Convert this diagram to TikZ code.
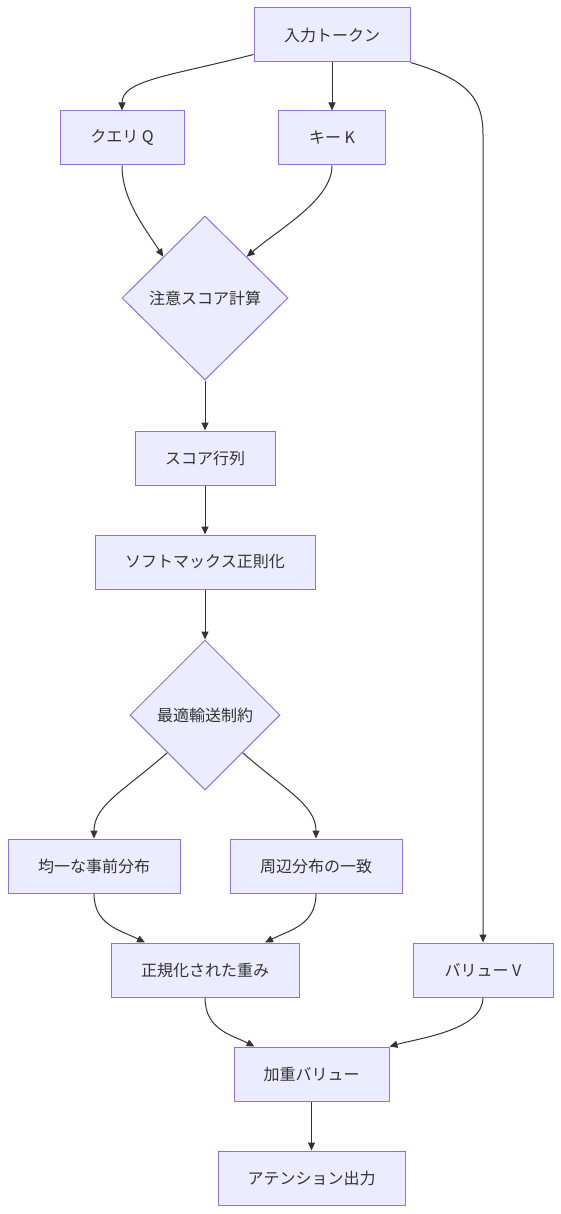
\documentclass[tikz,border=0pt]{standalone}
\usepackage{fontspec}
\setmainfont{Noto Sans CJK JP}
\usetikzlibrary{shapes.geometric,arrows.meta,calc}
\definecolor{mmfill}{HTML}{ECECFF}
\definecolor{mmstroke}{HTML}{9370DB}
\definecolor{mmtext}{HTML}{333333}
\definecolor{mmline}{HTML}{333333}
\begin{document}
\begin{tikzpicture}[x=1pt,y=-1pt,
  box/.style={rectangle,draw=mmstroke,fill=mmfill,line width=1pt,minimum height=54pt,inner sep=0pt,text=mmtext,font=\fontsize{16}{19}\selectfont},
  dia/.style={diamond,draw=mmstroke,fill=mmfill,line width=1pt,inner sep=0pt,text=mmtext,font=\fontsize{16}{19}\selectfont},
  conn/.style={draw=mmline,line width=1pt,-{Triangle[length=8pt,width=7pt]}}]
\useasboundingbox (0,0) rectangle (561,1214);
\node[box,minimum width=156pt] (in) at (332,35) {入力トークン};
\node[box,minimum width=124pt] (q) at (122,138) {クエリ Q};
\node[box,minimum width=107pt] (k) at (332,138) {キー K};
\node[dia,minimum width=166pt,minimum height=164pt] (d1) at (205,298) {注意スコア計算};
\node[box,minimum width=140pt] (score) at (205,458) {スコア行列};
\node[box,minimum width=220pt] (soft) at (205,562) {ソフトマックス正則化};
\node[dia,minimum width=150pt,minimum height=150pt] (d2) at (205,715) {最適輸送制約};
\node[box,minimum width=172pt] (uni) at (94,866) {均一な事前分布};
\node[box,minimum width=172pt] (marg) at (316,866) {周辺分布の一致};
\node[box,minimum width=188pt] (norm) at (205,970) {正規化された重み};
\node[box,minimum width=140pt] (v) at (483,970) {バリュー V};
\node[box,minimum width=155pt] (w) at (311.5,1074) {加重バリュー};
\node[box,minimum width=187pt] (out) at (311.5,1178) {アテンション出力};

\draw[conn] ($(in.south west)+(0,-8)$) .. controls (170,76) and (122,80) .. (q.north);
\draw[conn] (in) -- (k);
\draw[conn] (in.south east) .. controls (470,80) and (483,100) .. (483,135) -- (v.north);
\draw[conn] (q.south) .. controls (122,200) and (145,228) .. (d1.north west);
\draw[conn] (k.south) .. controls (332,200) and (280,228) .. (d1.north east);
\draw[conn] (d1) -- (score);
\draw[conn] (score) -- (soft);
\draw[conn] (soft) -- (d2);
\draw[conn] (d2.south west) .. controls (125,790) and (94,805) .. (uni.north);
\draw[conn] (d2.south east) .. controls (285,790) and (316,805) .. (marg.north);
\draw[conn] (uni.south) .. controls (94,925) and (120,930) .. ($(norm.north)+(-60,0)$);
\draw[conn] (marg.south) .. controls (316,925) and (290,930) .. ($(norm.north)+(60,0)$);
\draw[conn] (norm.south) .. controls (205,1030) and (232,1035) .. ($(w.north)+(-57,0)$);
\draw[conn] (v.south) .. controls (483,1030) and (420,1038) .. (w.north east);
\draw[conn] (w) -- (out);
\end{tikzpicture}
\end{document}
